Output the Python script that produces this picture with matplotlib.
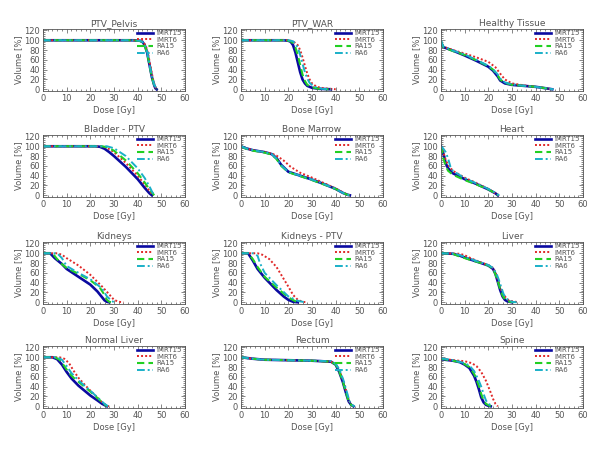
import matplotlib
matplotlib.use("Agg")
import matplotlib.pyplot as plt
from matplotlib.ticker import MultipleLocator

# DVH data: (dose [Gy], volume [%]) pairs
series_names = ["IMRT15", "IMRT6", "RA15", "RA6"]

pelvis = {
    "IMRT15": [(0, 100), (38, 100), (41, 99), (42, 97), (43, 90), (44, 75), (45, 50), (46, 25), (47, 8), (47.5, 2), (48, 0)],
    "IMRT6": [(0, 100), (39, 100), (41.5, 99), (42.5, 96), (43.5, 88), (44.5, 70), (45.5, 45), (46.5, 20), (47.3, 6), (48, 0)],
    "RA15": [(0, 100), (38, 100), (41, 98.5), (42, 96), (43, 89), (44, 74), (45, 49), (46, 24), (47, 8), (48, 0)],
    "RA6": [(0, 100), (38, 100), (41, 99), (42, 97), (43, 90), (44, 76), (45, 51), (46, 26), (47, 9), (48.2, 0)],
}
ptv_war = {
    "IMRT15": [(0, 100), (18, 100), (20, 99), (21, 97), (22, 90), (23, 75), (24, 55), (25, 35), (26, 20), (27, 12), (28, 7), (30, 3), (33, 1), (38, 0)],
    "IMRT6": [(0, 100), (20, 100), (22, 98), (24, 90), (25, 80), (26, 65), (27, 48), (28, 32), (29, 20), (30, 12), (32, 5), (35, 2), (40, 0)],
    "RA15": [(0, 100), (19, 100), (21, 98), (22, 94), (23, 85), (24, 70), (25, 50), (26, 30), (27, 17), (28, 9), (30, 4), (33, 1), (37, 0)],
    "RA6": [(0, 100), (20, 100), (22, 98), (23, 93), (24, 85), (25, 70), (26, 52), (27, 35), (28, 22), (29, 13), (31, 5), (34, 1), (38, 0)],
}
healthy = {
    "IMRT15": [(0, 96), (0.5, 90), (1, 86), (5, 79), (10, 69), (15, 58), (20, 46), (22, 38), (24, 26), (25, 18), (27, 12), (30, 9), (35, 7), (40, 5), (43, 3), (45, 1.5), (47, 0)],
    "IMRT6": [(0, 97), (0.5, 92), (1, 87), (5, 80), (10, 73), (15, 65), (20, 56), (23, 45), (25, 32), (27, 20), (30, 12), (35, 8), (40, 5), (43, 3), (45, 1.5), (47, 0)],
    "RA15": [(0, 98), (0.5, 92), (1, 86), (5, 78), (10, 70), (15, 59), (20, 47), (22, 40), (24, 28), (25, 20), (27, 13), (30, 9), (35, 7), (40, 5), (43, 3), (45, 1.5), (47, 0)],
    "RA6": [(0, 100), (0.5, 93), (1, 87), (5, 79), (10, 71), (15, 60), (20, 48), (22, 41), (24, 30), (25, 22), (27, 14), (30, 10), (35, 7), (40, 5), (43, 3), (45, 1.5), (47.5, 0)],
}
bladder = {
    "IMRT15": [(0, 100), (22, 100), (24, 99), (26, 95), (28, 88), (30, 80), (35, 58), (40, 33), (43, 15), (45, 4), (46, 0)],
    "IMRT6": [(0, 100), (25, 100), (27, 97), (30, 88), (35, 66), (40, 40), (43, 22), (45, 9), (46.5, 0)],
    "RA15": [(0, 100), (25, 100), (27, 98), (30, 91), (35, 71), (40, 45), (43, 26), (45, 12), (47, 0)],
    "RA6": [(0, 100), (27, 100), (30, 96), (35, 80), (40, 55), (43, 35), (45, 18), (46, 8), (47, 0)],
}
marrow = {
    "IMRT15": [(0, 100), (2, 96), (5, 92), (10, 88), (13, 84), (15, 76), (17, 62), (20, 48), (25, 40), (30, 32), (35, 23), (40, 13), (43, 5), (45, 1), (46, 0)],
    "IMRT6": [(0, 100), (2, 96), (5, 92), (10, 88), (13, 85), (15, 81), (18, 71), (21, 58), (25, 46), (30, 36), (35, 25), (40, 14), (43, 6), (45, 1), (46.5, 0)],
    "RA15": [(0, 100), (2, 95), (5, 91), (10, 87), (13, 83), (15, 74), (17, 60), (20, 47), (25, 39), (30, 31), (35, 22), (40, 13), (43, 5), (45, 1), (46, 0)],
    "RA6": [(0, 100), (2, 96), (5, 92), (10, 88), (13, 84), (15, 75), (17, 61), (20, 48), (25, 40), (30, 32), (35, 23), (40, 13), (43, 5), (45, 1), (46.5, 0)],
}
heart = {
    "IMRT15": [(0, 100), (0.5, 95), (1, 85), (2, 65), (3, 55), (5, 45), (10, 33), (15, 23), (20, 12), (23, 4), (24, 0)],
    "IMRT6": [(0, 100), (1, 88), (2, 72), (3, 62), (5, 50), (10, 36), (15, 25), (20, 13), (23, 4), (24.5, 0)],
    "RA15": [(0, 100), (0.5, 90), (1, 75), (2, 60), (3, 50), (5, 42), (10, 31), (15, 22), (20, 12), (23, 4), (24, 0)],
    "RA6": [(0, 100), (1, 95), (2, 88), (3, 75), (4, 58), (5, 50), (10, 35), (15, 24), (20, 13), (23, 5), (24.5, 0)],
}
kidneys = {
    "IMRT15": [(0, 100), (3, 100), (5, 90), (8, 78), (10, 68), (15, 52), (20, 36), (23, 22), (25, 10), (26, 4), (27, 1), (28, 0)],
    "IMRT6": [(0, 100), (6, 100), (8, 97), (10, 90), (15, 75), (20, 56), (25, 32), (28, 16), (30, 5), (32, 1), (34, 0)],
    "RA15": [(0, 100), (4, 100), (6, 88), (8, 78), (10, 70), (15, 58), (20, 45), (24, 30), (26, 15), (27, 5), (28, 1), (29, 0)],
    "RA6": [(0, 100), (6, 100), (8, 90), (10, 74), (15, 60), (20, 47), (25, 28), (27, 12), (29, 3), (30, 0)],
}
kidneys_ptv = {
    "IMRT15": [(0, 100), (3, 100), (5, 85), (7, 68), (10, 50), (15, 25), (18, 12), (20, 5), (22, 1), (24, 0)],
    "IMRT6": [(0, 100), (7, 100), (9, 97), (12, 88), (15, 72), (18, 48), (20, 32), (22, 15), (24, 5), (26, 1), (28, 0)],
    "RA15": [(0, 100), (3, 100), (5, 88), (7, 72), (10, 52), (15, 30), (20, 10), (23, 2), (25, 0)],
    "RA6": [(0, 100), (5, 100), (7, 95), (8, 80), (10, 60), (15, 35), (20, 12), (24, 3), (27, 0)],
}
liver = {
    "IMRT15": [(0, 100), (5, 99), (8, 95), (12, 88), (17, 80), (20, 75), (22, 68), (23, 58), (24, 42), (25, 25), (26, 12), (27, 5), (28, 2), (30, 0)],
    "IMRT6": [(0, 100), (8, 99), (10, 96), (13, 89), (17, 81), (20, 76), (22, 70), (23, 61), (24, 47), (25, 32), (26, 18), (28, 6), (30, 2), (33, 0)],
    "RA15": [(0, 100), (5, 99), (7, 95), (12, 87), (17, 80), (20, 75), (22, 68), (23, 57), (24, 43), (25, 27), (26, 14), (27, 6), (29, 1), (31, 0)],
    "RA6": [(0, 100), (6, 99), (8, 96), (12, 89), (17, 81), (20, 76), (22, 70), (23.5, 58), (24.5, 45), (25.5, 30), (26.5, 16), (28, 6), (30, 1), (32, 0)],
}
normal_liver = {
    "IMRT15": [(0, 100), (4, 100), (6, 96), (8, 85), (10, 70), (12, 57), (15, 42), (18, 30), (20, 22), (23, 12), (25, 5), (27, 0)],
    "IMRT6": [(0, 100), (7, 100), (9, 97), (11, 88), (13, 72), (15, 58), (18, 42), (20, 32), (23, 18), (25, 8), (27, 1), (28, 0)],
    "RA15": [(0, 100), (5, 100), (7, 95), (9, 82), (11, 68), (13, 58), (15, 50), (18, 38), (20, 30), (23, 17), (25, 8), (27, 0)],
    "RA6": [(0, 100), (6, 100), (8, 95), (10, 82), (12, 68), (15, 53), (18, 40), (20, 32), (23, 18), (26, 5), (27.5, 0)],
}
rectum = {
    "IMRT15": [(0, 100), (5, 97), (10, 95), (20, 94), (30, 93), (38, 91), (40, 85), (41.5, 70), (43, 50), (44.5, 25), (45.5, 10), (46.5, 3), (47.5, 0)],
    "IMRT6": [(0, 100), (5, 97), (10, 95), (20, 94), (30, 93), (38, 91), (40, 86), (41.7, 72), (43.2, 52), (44.7, 27), (45.7, 11), (46.7, 3), (47.7, 0)],
    "RA15": [(0, 100), (5, 97), (10, 95), (20, 94), (30, 93), (38, 91), (40, 85), (41.5, 71), (43, 51), (44.5, 26), (45.5, 10), (46.5, 3), (47.5, 0)],
    "RA6": [(0, 100), (5, 97), (10, 95), (20, 94), (30, 93), (38, 92), (40, 87), (41.8, 73), (43.3, 53), (44.8, 28), (45.8, 11), (46.8, 3), (48, 0)],
}
spine = {
    "IMRT15": [(0, 96), (5, 93), (8, 90), (10, 85), (12, 78), (14, 62), (15, 50), (16, 35), (17, 18), (18, 8), (19, 3), (20, 1), (21, 0)],
    "IMRT6": [(0, 98), (5, 94), (10, 92), (13, 88), (15, 82), (17, 70), (19, 52), (20, 40), (21, 28), (22, 15), (23, 5), (24, 0)],
    "RA15": [(0, 97), (5, 93), (8, 90), (10, 86), (12, 80), (14, 66), (15, 55), (16, 42), (17, 25), (18, 12), (19, 5), (21, 0)],
    "RA6": [(0, 98), (5, 94), (10, 88), (12, 83), (14, 72), (16, 52), (17, 40), (18, 25), (19, 12), (20, 5), (22, 0)],
}

titles = ["PTV_Pelvis", "PTV_WAR", "Healthy Tissue",
          "Bladder - PTV", "Bone Marrow", "Heart",
          "Kidneys", "Kidneys - PTV", "Liver",
          "Normal Liver", "Rectum", "Spine"]
panels = [pelvis, ptv_war, healthy, bladder, marrow, heart,
          kidneys, kidneys_ptv, liver, normal_liver, rectum, spine]

styles = {
    "IMRT15": dict(color="#0a0aa0", ls="-", lw=1.9),
    "IMRT6": dict(color="#e02828", ls=(0, (1, 1.1)), lw=1.4),
    "RA15": dict(color="#22d022", ls=(0, (3.5, 2)), lw=1.5),
    "RA6": dict(color="#1ab0c8", ls=(0, (4, 1.5, 1, 1.5)), lw=1.4),
}
grey = "#555555"

fig = plt.figure(figsize=(6, 4.5), dpi=100)
col_left = [43, 241, 441]
row_top = [29, 135, 242, 346]
w, h = 142, 62

for i, (title, data) in enumerate(zip(titles, panels)):
    r, c = divmod(i, 3)
    ax = fig.add_axes([col_left[c] / 600, 1 - (row_top[r] + h) / 450, w / 600, h / 450])
    for name in series_names:
        pts = data[name]
        ax.plot([p[0] for p in pts], [p[1] for p in pts], label=name, **styles[name])
    ax.set_xlim(0, 60)
    ax.set_ylim(-3.5, 123)
    ax.xaxis.set_major_locator(MultipleLocator(10))
    ax.xaxis.set_minor_locator(MultipleLocator(2))
    ax.yaxis.set_major_locator(MultipleLocator(20))
    ax.yaxis.set_minor_locator(MultipleLocator(4))
    ax.tick_params(which="both", direction="in", top=True, right=True, colors=grey,
                   labelsize=6, pad=2, width=0.5)
    ax.tick_params(which="major", length=3)
    ax.tick_params(which="minor", length=1.5)
    for sp in ax.spines.values():
        sp.set_linewidth(0.6)
        sp.set_color(grey)
    ax.set_title(title, fontsize=6.5, color=grey, pad=2)
    ax.set_xlabel("Dose [Gy]", fontsize=6, color=grey, labelpad=2)
    ax.set_ylabel("Volume [%]", fontsize=6, color=grey, labelpad=1)
    leg = ax.legend(loc="upper left", bbox_to_anchor=(0.63, 1.05), frameon=False,
                    fontsize=5, handlelength=2.4, handletextpad=0.4,
                    labelspacing=0.1, borderpad=0.1)
    for t in leg.get_texts():
        t.set_color(grey)

fig.savefig("out.png", dpi=100)
